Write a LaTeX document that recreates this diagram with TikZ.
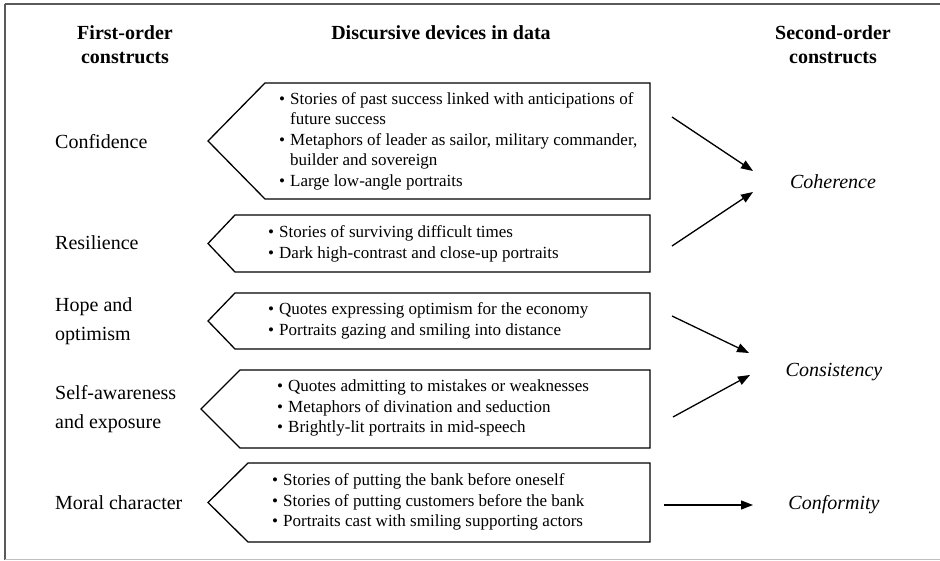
\documentclass[tikz,border=0pt]{standalone}
\usepackage{fontspec}
\setmainfont{Liberation Serif}
\usetikzlibrary{arrows.meta}
\newcommand{\bl}{\makebox[11pt][l]{\textbullet}}
\newcommand{\ct}{\hspace*{11pt}}
\begin{document}
\begin{tikzpicture}[x=1pt,y=-1pt,
  hdr/.style={font=\fontsize{20}{24}\selectfont\bfseries,align=center,inner sep=0},
  lbl/.style={font=\fontsize{20}{29.5}\selectfont,align=left,anchor=west,inner sep=0},
  sec/.style={font=\fontsize{20}{24}\selectfont\itshape,inner sep=0},
  items/.style={font=\fontsize{17}{20.5}\selectfont,align=left,anchor=west,inner sep=0},
  pent/.style={draw=black,line width=1.3pt},
  arr/.style={line width=1.3pt,-{Triangle[length=12pt,width=9pt]}}]
\useasboundingbox (0,0) rectangle (940,561);
% frame
\draw[line width=2pt,draw=black!65] (4.5,4.5) -- (940,4.5);
\draw[line width=2pt,draw=black!65] (4.5,4.5) -- (4.5,560);
\draw[line width=1.5pt,draw=black!25] (4.5,559.5) -- (940,559.5);
% headers
\node[hdr] (h1) at (125,45) {First-order\\constructs};
\node[hdr] (h2) at (441,33) {Discursive devices in data};
\node[hdr] (h3) at (833,45) {Second-order\\constructs};
% first-order labels
\node[lbl] (l1) at (55,142) {Confidence};
\node[lbl] (l2) at (55,243) {Resilience};
\node[lbl] (l3) at (55,321) {Hope and\\optimism};
\node[lbl] (l4) at (55,409) {Self-awareness\\and exposure};
\node[lbl] (l5) at (55,503) {Moral character};
% pentagons
\draw[pent] (208,141) -- (265,83) -- (650,83) -- (650,199) -- (265,199) -- cycle;
\draw[pent] (208,243.5) -- (235,215) -- (650,215) -- (650,272) -- (235,272) -- cycle;
\draw[pent] (208,321) -- (235,293) -- (650,293) -- (650,349) -- (235,349) -- cycle;
\draw[pent] (201,409) -- (240,370) -- (650,370) -- (650,448) -- (240,448) -- cycle;
\draw[pent] (208,502.5) -- (248,463) -- (650,463) -- (650,542) -- (248,542) -- cycle;
% items
\node[items] (t1) at (279,141) {\bl Stories of past success linked with anticipations of\\\ct future success\\\bl Metaphors of leader as sailor, military commander,\\\ct builder and sovereign\\\bl Large low-angle portraits};
\node[items] (t2) at (268,244) {\bl Stories of surviving difficult times\\\bl Dark high-contrast and close-up portraits};
\node[items] (t3) at (268,321) {\bl Quotes expressing optimism for the economy\\\bl Portraits gazing and smiling into distance};
\node[items] (t4) at (277,408) {\bl Quotes admitting to mistakes or weaknesses\\\bl Metaphors of divination and seduction\\\bl Brightly-lit portraits in mid-speech};
\node[items] (t5) at (272,502) {\bl Stories of putting the bank before oneself\\\bl Stories of putting customers before the bank\\\bl Portraits cast with smiling supporting actors};
% second-order
\node[sec] (coh) at (833,182) {Coherence};
\node[sec] (cons) at (834,372) {Consistency};
\node[sec] (conf) at (834,505) {Conformity};
% arrow endpoints
\coordinate (s1) at (672,117); \coordinate (e1) at (753,171);
\coordinate (s2) at (672,246); \coordinate (e2) at (753,192);
\coordinate (s3) at (672,316); \coordinate (e3) at (749,353);
\coordinate (s4) at (673,417); \coordinate (e4) at (750,375);
\coordinate (s5) at (664,505); \coordinate (e5) at (753,505);
\draw[arr] (s1) -- (e1);
\draw[arr] (s2) -- (e2);
\draw[arr] (s3) -- (e3);
\draw[arr] (s4) -- (e4);
\draw[arr] (s5) -- (e5);
\end{tikzpicture}
\end{document}
